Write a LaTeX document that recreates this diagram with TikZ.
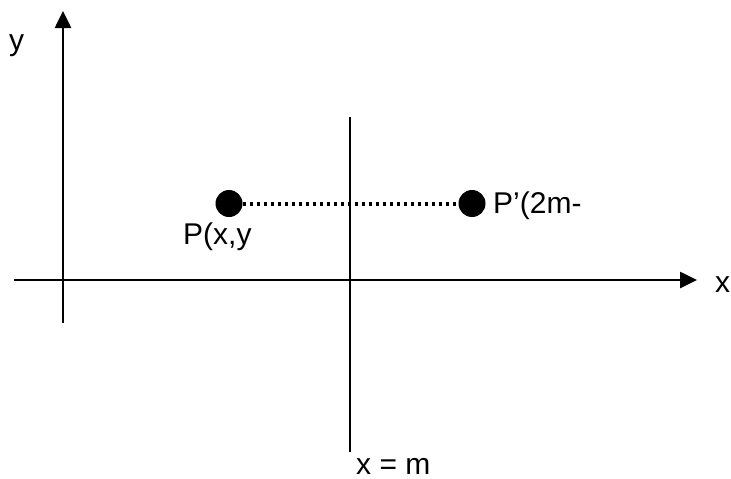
\documentclass[tikz,border=0pt]{standalone}
\usepackage{fontspec}
\setmainfont{Liberation Sans}
\usetikzlibrary{arrows.meta}

\tikzset{
  axis/.style={line width=2.6pt,-{Triangle[length=17pt,width=16pt]}},
  dot/.style={circle,fill=black,inner sep=0pt,minimum size=27pt},
  lbl/.style={anchor=base west,inner sep=0pt,font=\fontsize{30}{36}\selectfont}
}

\begin{document}
\begin{tikzpicture}[x=1pt,y=-1pt]
\useasboundingbox (0,0) rectangle (731,479);
% axes
\coordinate (xs) at (14,280);
\coordinate (xe) at (697,280);
\coordinate (ys) at (63,323);
\coordinate (ye) at (63,11);
\draw[axis] (xs) -- (xe);
\draw[axis] (ys) -- (ye);
\node[lbl] (xl) at (715,292) {x};
\node[lbl] (yl) at (9,50) {y};

% mirror line x = m
\coordinate (mt) at (350,117);
\coordinate (mb) at (350,452);
\draw[line width=2.6pt] (mt) -- (mb);
\node[lbl] (ml) at (356,474) {x = m};

% the point and its image
\node[dot] (P) at (229,203.5) {};
\node[dot] (Pp) at (472,203.5) {};
\draw[line width=4pt,dash pattern=on 3.5pt off 3.5pt] (P.east) -- (Pp.west);
\node[lbl] (Pl) at (183,244) {P(x,y};
\node[lbl] (Ppl) at (493,213) {P’(2m-};
\end{tikzpicture}
\end{document}
